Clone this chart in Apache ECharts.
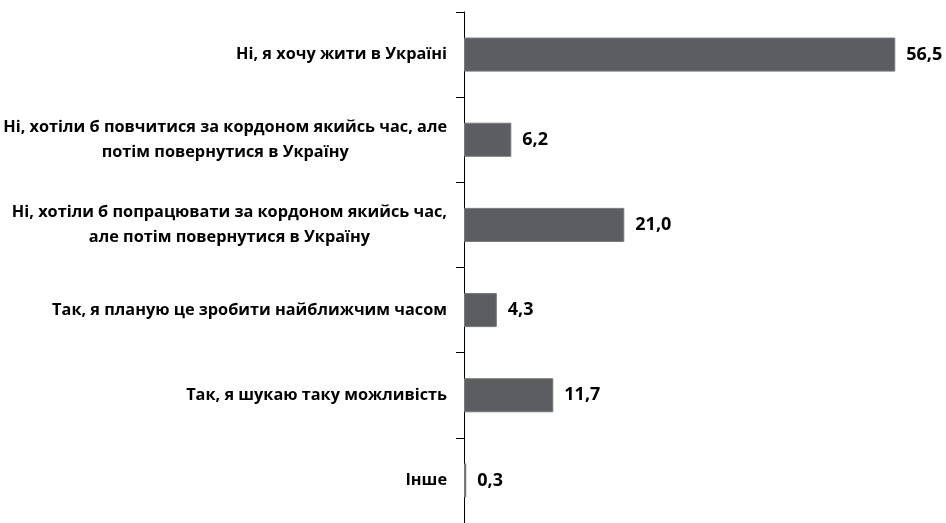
<!DOCTYPE html>
<html>
<head>
<meta charset="utf-8">
<script src="https://cdn.jsdelivr.net/npm/echarts@6/dist/echarts.min.js"></script>
<style>
  html, body { margin: 0; padding: 0; background: #fff; }
  #main { width: 946px; height: 523px; }
</style>
</head>
<body>
<div id="main"></div>
<script>
// категорії (знизу вгору, як у category axis)
var categories = [
  "Інше",
  "Так, я шукаю таку можливість",
  "Так, я планую це зробити найближчим часом",
  "Ні, хотіли б попрацювати за кордоном якийсь час,\nале потім повернутися в Україну",
  "Ні, хотіли б повчитися за кордоном якийсь час, але\nпотім повернутися в Україну",
  "Ні, я хочу жити в Україні"
];
var values = [0.3, 11.7, 4.3, 21.0, 6.2, 56.5];

var myChart = echarts.init(document.getElementById("main"));

var option = {
  animation: false,
  grid: {
    left: 464,
    right: 24,
    top: 12,
    bottom: 0
  },
  xAxis: {
    type: "value",
    min: 0,
    max: 60,
    show: false
  },
  yAxis: {
    type: "category",
    data: categories,
    axisLine: { show: true, lineStyle: { color: "#000", width: 1 } },
    axisTick: { show: true, length: 8, lineStyle: { color: "#000" } },
    axisLabel: {
      margin: 17,
      align: "right",
      fontFamily: "Open Sans",
      fontWeight: "bold",
      fontSize: 16.3,
      color: "#000",
      lineHeight: 25,
      formatter: function (val) {
        return val.split("\n").map(function (s) { return "{c|" + s + "}"; }).join("\n");
      },
      rich: {
        c: {
          align: "center",
          fontFamily: "Open Sans",
          fontWeight: "bold",
          fontSize: 16.3,
          lineHeight: 25,
          color: "#000"
        }
      }
    },
    splitLine: { show: false }
  },
  series: [
    {
      type: "bar",
      data: values,
      barWidth: "40%",
      itemStyle: {
        color: "#5c5d61",
        borderColor: "#77787c",
        borderWidth: 1
      },
      label: {
        show: true,
        position: "right",
        distance: 11,
        fontFamily: "Open Sans",
        fontWeight: "bold",
        fontSize: 18,
        color: "#000",
        formatter: function (p) {
          return p.value.toFixed(1).replace(".", ",");
        }
      }
    }
  ]
};

myChart.setOption(option);
</script>
</body>
</html>
